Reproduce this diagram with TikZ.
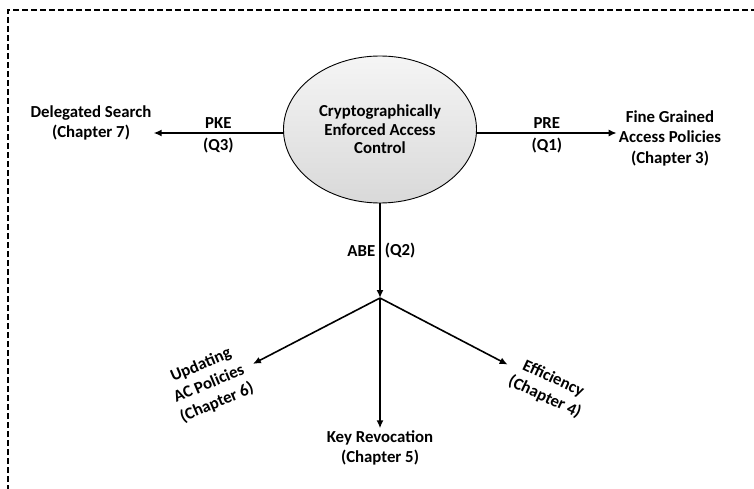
\documentclass[tikz,border=0pt]{standalone}
\usepackage{fontspec}
\setmainfont{Carlito}
\usetikzlibrary{calc,shapes,arrows.meta}

\begin{document}
\begin{tikzpicture}[x=1pt,y=-1pt,
	main/.style={ellipse, draw=black, line width=0.9pt, top color=gray!8, bottom color=gray!30, minimum width=193pt, minimum height=147pt, inner sep=0, align=center, font=\fontsize{16.8}{18.5}\selectfont\bfseries},
	topic/.style={align=center, inner sep=2pt, font=\fontsize{16.8}{20.5}\selectfont\bfseries},
	lab/.style={inner sep=4pt, font=\fontsize{16.8}{18}\selectfont\bfseries},
	arr/.style={line width=1.6pt, -{Latex[length=8pt,width=7pt]}},
	frame/.style={line width=1.6pt, dash pattern=on 6pt off 3pt}]

		\useasboundingbox (0,0) rectangle (754,489);
		%frame
		\draw[frame] (8,500) -- (8,10) -- (770,10);
		%centre
		\node[main] at (380,129.5) (ace) {Cryptographically\\Enforced Access\\Control};
		%chapters
		\node[topic] at (91,123) (ds) {Delegated Search\\(Chapter 7)};
		\node[topic] at (670,138) (fg) {Fine Grained\\Access Policies\\(Chapter 3)};
		\node[topic] at (380,448) (kr) {Key Revocation\\(Chapter 5)};
		\node[topic,rotate=23] at (209,384) (up) {Updating\\AC Policies\\(Chapter 6)};
		\node[topic,rotate=-25] at (549,388) (eff) {Efficiency\\(Chapter 4)};
		\coordinate (split) at (380,298);

		\draw[arr] ([yshift=-3.5pt]ace.west) -- node[lab,above]{PKE} node[lab,below]{(Q3)} ([yshift=-3.5pt]ace.west -| ds.east);
		\draw[arr] ([yshift=-3.5pt]ace.east) -- node[lab,above]{PRE} node[lab,below]{(Q1)} ([yshift=-3.5pt]ace.east -| fg.west);
		\draw[arr] (ace.south) -- node[lab,left]{ABE} node[lab,right]{(Q2)} (split);
		\draw[arr] (split) -- ([xshift=6pt,yshift=4pt]up.east);
		\draw[arr] (split) -- (kr.north);
		\draw[arr] (split) -- ([xshift=-4pt,yshift=6pt]eff.west);
	\end{tikzpicture}
\end{document}
